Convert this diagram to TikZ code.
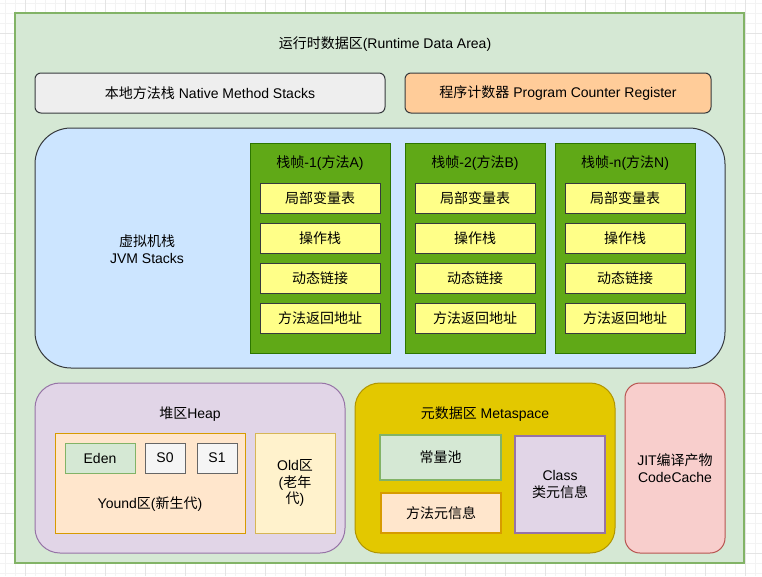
\documentclass[tikz,border=0pt]{standalone}
\usepackage{fontspec}
\setmainfont{Liberation Sans}
\newfontfamily\cjk{Noto Sans CJK SC}
\usetikzlibrary{positioning}
\definecolor{gridminor}{HTML}{F3F3F3}
\definecolor{gridmajor}{HTML}{E4E4E4}
\definecolor{areafill}{HTML}{D5E8D4}
\definecolor{arealine}{HTML}{82B366}
\definecolor{darkline}{HTML}{36393D}
\definecolor{nativefill}{HTML}{EEEEEE}
\definecolor{pcfill}{HTML}{FFCC99}
\definecolor{stackfill}{HTML}{CCE5FF}
\definecolor{framefill}{HTML}{60A917}
\definecolor{frameline}{HTML}{2D7600}
\definecolor{slotfill}{HTML}{FFFF88}
\definecolor{heapfill}{HTML}{E1D5E7}
\definecolor{heapline}{HTML}{9673A6}
\definecolor{youngfill}{HTML}{FFE6CC}
\definecolor{youngline}{HTML}{D79B00}
\definecolor{survfill}{HTML}{F5F5F5}
\definecolor{survline}{HTML}{666666}
\definecolor{oldfill}{HTML}{FFF2CC}
\definecolor{oldline}{HTML}{D6B656}
\definecolor{metafill}{HTML}{E3C800}
\definecolor{metaline}{HTML}{B09500}
\definecolor{jitfill}{HTML}{F8CECC}
\definecolor{jitline}{HTML}{B85450}
\tikzset{%
  txt/.style={inner sep=0pt,outer sep=0pt,align=center,font=\fontsize{14}{16.5}\selectfont},
  region/.style={txt,draw,line width=1pt},
  frame/.style={region,draw=frameline,fill=framefill,minimum width=140pt,minimum height=210pt},
  slot/.style={region,draw=darkline,fill=slotfill,minimum width=120pt,minimum height=30pt}%
}

\begin{document}
\begin{tikzpicture}[x=1pt,y=-1pt]
\useasboundingbox (0,0) rectangle (762,576);

% Grid behind the diagram
\foreach \g in {5,15,...,755} \draw[gridminor,line width=1pt] (\g,0) -- (\g,576);
\foreach \g in {3,13,...,573} \draw[gridminor,line width=1pt] (0,\g) -- (762,\g);
\foreach \g in {25,65,...,745} \draw[gridmajor,line width=1pt] (\g,0) -- (\g,576);
\foreach \g in {33,73,...,553} \draw[gridmajor,line width=1pt] (0,\g) -- (762,\g);

% Runtime data area
\node[region,draw=arealine,fill=areafill,line width=2pt,minimum width=729pt,minimum height=550pt] (runtime) at (379.5,288) {};
\node[txt] (runtimetitle) at (385,44) {{\cjk 运行时数据区}(Runtime Data Area)};

% Top row
\node[region,draw=darkline,fill=nativefill,rounded corners=6pt,minimum width=350pt,minimum height=40pt] (native) at (210,93) {{\cjk 本地方法栈} Native Method Stacks};
\node[region,draw=darkline,fill=pcfill,rounded corners=6pt,minimum width=306pt,minimum height=40pt] (pc) at (558,93) {{\cjk 程序计数器} Program Counter Register};

% JVM stacks with three frames
\node[region,draw=darkline,fill=stackfill,rounded corners=36pt,minimum width=690pt,minimum height=240pt] (stacks) at (380,248) {};
\node[txt] (stackslabel) at (147,249) {{\cjk 虚拟机栈}\\JVM Stacks};

\node[frame] (frameA) at (320,248) {};
\node[txt] (titleA) at (320,163) {{\cjk 栈帧}-1({\cjk 方法}A)};
\node[slot] (localA) at (320,198) {\cjk 局部变量表};
\node[slot,below=10pt of localA] (operandA) {\cjk 操作栈};
\node[slot,below=10pt of operandA] (linkA) {\cjk 动态链接};
\node[slot,below=10pt of linkA] (returnA) {\cjk 方法返回地址};

\node[frame] (frameB) at (475,248) {};
\node[txt] (titleB) at (475,163) {{\cjk 栈帧}-2({\cjk 方法}B)};
\node[slot] (localB) at (475,198) {\cjk 局部变量表};
\node[slot,below=10pt of localB] (operandB) {\cjk 操作栈};
\node[slot,below=10pt of operandB] (linkB) {\cjk 动态链接};
\node[slot,below=10pt of linkB] (returnB) {\cjk 方法返回地址};

\node[frame] (frameN) at (625,248) {};
\node[txt] (titleN) at (625,163) {{\cjk 栈帧}-n({\cjk 方法}N)};
\node[slot] (localN) at (625,198) {\cjk 局部变量表};
\node[slot,below=10pt of localN] (operandN) {\cjk 操作栈};
\node[slot,below=10pt of operandN] (linkN) {\cjk 动态链接};
\node[slot,below=10pt of linkN] (returnN) {\cjk 方法返回地址};

% Heap
\node[region,draw=heapline,fill=heapfill,rounded corners=25pt,minimum width=310pt,minimum height=170pt] (heap) at (190,468) {};
\node[txt] (heaptitle) at (190,414) {{\cjk 堆区}Heap};
\node[region,draw=youngline,fill=youngfill,minimum width=190pt,minimum height=100pt] (young) at (150,483) {};
\node[region,draw=arealine,fill=areafill,minimum width=70pt,minimum height=30pt] (eden) at (100,458) {Eden};
\node[region,draw=survline,fill=survfill,minimum width=40pt,minimum height=30pt] (szero) at (165,458) {S0};
\node[region,draw=survline,fill=survfill,minimum width=40pt,minimum height=30pt] (sone) at (217,458) {S1};
\node[txt] (youngtitle) at (150,504) {Yound{\cjk 区}({\cjk 新生代})};
\node[region,draw=oldline,fill=oldfill,minimum width=80pt,minimum height=100pt] (old) at (295,483) {Old{\cjk 区}\\({\cjk 老年}\\{\cjk 代})};

% Metaspace
\node[region,draw=metaline,fill=metafill,rounded corners=25pt,minimum width=260pt,minimum height=170pt] (meta) at (485,468) {};
\node[txt] (metatitle) at (485,414) {{\cjk 元数据区} Metaspace};
\node[region,draw=arealine,fill=areafill,line width=2pt,minimum width=121pt,minimum height=45pt] (pool) at (440.5,457.5) {\cjk 常量池};
\node[region,draw=youngline,fill=youngfill,line width=2pt,minimum width=120pt,minimum height=40pt] (methodinfo) at (441,513) {\cjk 方法元信息};
\node[region,draw=heapline,fill=heapfill,line width=2pt,minimum width=90pt,minimum height=97pt] (classinfo) at (560,484.5) {Class\\{\cjk 类元信息}};

% Code cache
\node[region,draw=jitline,fill=jitfill,rounded corners=15pt,minimum width=100pt,minimum height=170pt] (jit) at (675,468) {JIT{\cjk 编译产物}\\CodeCache};

\end{tikzpicture}
\end{document}
